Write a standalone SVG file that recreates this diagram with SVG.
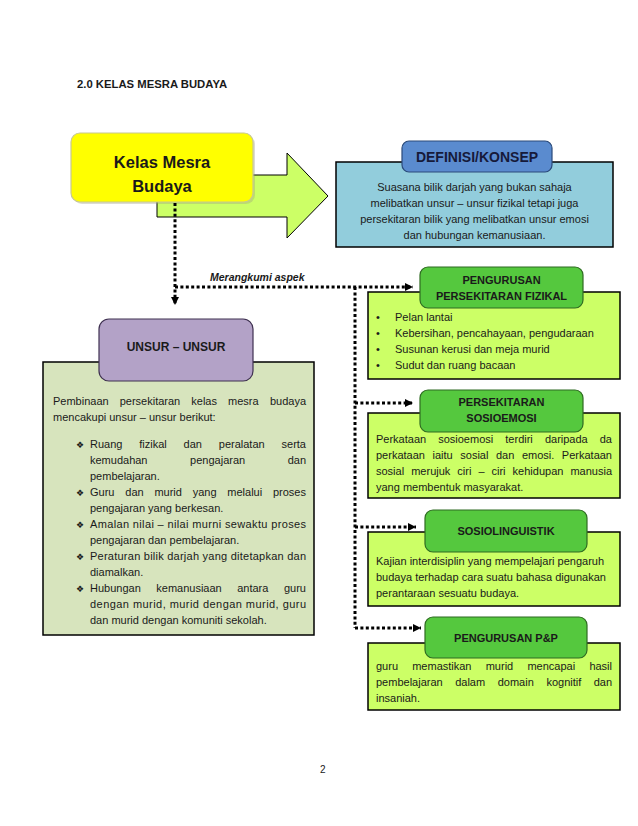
<svg xmlns="http://www.w3.org/2000/svg" width="638" height="826" viewBox="0 0 638 826">
<defs>
<style>
text{font-family:"Liberation Sans",Arial,sans-serif;fill:#1a1a1a}
.t{font-size:11px}
.b{font-weight:bold}
.tab{font-size:11px;font-weight:bold;text-anchor:middle}
.box{fill:#ccff66;stroke:#000;stroke-width:1.5}
.gtab{fill:#55c83e;stroke:#2f6b22;stroke-width:1.2}
.dot{fill:none;stroke:#000;stroke-width:3;stroke-dasharray:3 2.4}
.dia{font-family:"DejaVu Sans",sans-serif;font-size:9px}
</style>
<marker id="ah" markerUnits="userSpaceOnUse" markerWidth="9" markerHeight="9" refX="8" refY="4.5" orient="auto">
<path d="M0,0.5 L8,4.5 L0,8.5 z" fill="#000"/>
</marker>
</defs>
<rect width="638" height="826" fill="#fff"/>

<text x="77" y="88" class="b" style="font-size:11.3px">2.0 KELAS MESRA BUDAYA</text>

<g id="arrow-main">
<polygon points="157,175 287,175 287,153 328,196 287,238 287,217 157,217" fill="#ccff66" stroke="#000" stroke-width="1"/>
</g>

<g id="kelas">
<rect x="73" y="135" width="182" height="69" rx="9" fill="#9a9a80" opacity="0.35"/>
<rect x="71" y="133" width="182" height="69" rx="9" fill="#ffff00" stroke="#c8c890" stroke-width="1.2"/>
<text x="162" y="168" class="b" text-anchor="middle" style="font-size:16.5px">Kelas Mesra</text>
<text x="162" y="192" class="b" text-anchor="middle" style="font-size:16.5px">Budaya</text>
</g>

<g id="definisi">
<rect x="336" y="162" width="277" height="85" fill="#92cddc" stroke="#000" stroke-width="1.5"/>
<rect x="402" y="141" width="150" height="31" rx="7" fill="#5a8bcf" stroke="#2a4a7a" stroke-width="1.2"/>
<text x="477" y="162" class="b" text-anchor="middle" style="font-size:14px;fill:#161a3a">DEFINISI/KONSEP</text>
<g class="t" text-anchor="middle">
<text x="474.5" y="191" class="t">Suasana bilik darjah yang bukan sahaja</text>
<text x="474.5" y="207" class="t">melibatkan unsur – unsur fizikal tetapi juga</text>
<text x="474.5" y="223" class="t">persekitaran bilik yang melibatkan unsur emosi</text>
<text x="474.5" y="239" class="t">dan hubungan kemanusiaan.</text>
</g>
</g>

<g id="connectors">
<path class="dot" d="M175,203 V305" marker-end="url(#ah)"/>
<path class="dot" d="M175,287 H413" marker-end="url(#ah)"/>
<path class="dot" d="M355,287 V628"/>
<path class="dot" d="M355,403 H413" marker-end="url(#ah)"/>
<path class="dot" d="M355,527 H416" marker-end="url(#ah)"/>
<path class="dot" d="M355,628 H421" marker-end="url(#ah)"/>
<text x="210" y="281" class="b" style="font-size:10.5px;font-style:italic">Merangkumi aspek</text>
</g>

<g id="fizikal">
<rect x="368" y="292" width="252" height="87" class="box"/>
<rect x="420" y="267" width="163" height="41" rx="8" class="gtab"/>
<text x="501.5" y="284" class="tab">PENGURUSAN</text>
<text x="501.5" y="300" class="tab">PERSEKITARAN FIZIKAL</text>
<text x="376" y="321" class="t">•</text><text x="395" y="321" class="t">Pelan lantai</text>
<text x="376" y="337" class="t">•</text><text x="395" y="337" class="t">Kebersihan, pencahayaan, pengudaraan</text>
<text x="376" y="353" class="t">•</text><text x="395" y="353" class="t">Susunan kerusi dan meja murid</text>
<text x="376" y="369" class="t">•</text><text x="395" y="369" class="t">Sudut dan ruang bacaan</text>
</g>

<g id="sosioemosi">
<rect x="368" y="413" width="252" height="85" class="box"/>
<rect x="420" y="390" width="163" height="42" rx="8" class="gtab"/>
<text x="501.5" y="406" class="tab">PERSEKITARAN</text>
<text x="501.5" y="422" class="tab">SOSIOEMOSI</text>
<text y="443" class="t"><tspan x="376">Perkataan</tspan><tspan x="438.2">sosioemosi</tspan><tspan x="505.3">terdiri</tspan><tspan x="544.9">daripada</tspan></text>
<text x="612" y="443" class="t" text-anchor="end">da</text>
<text y="459" class="t"><tspan x="376">perkataan</tspan><tspan x="432.5">iaitu</tspan><tspan x="460.3">sosial</tspan><tspan x="496">dan</tspan><tspan x="521.9">emosi.</tspan></text>
<text x="612" y="459" class="t" text-anchor="end">Perkataan</text>
<text y="475" class="t"><tspan x="376">sosial</tspan><tspan x="411.2">merujuk</tspan><tspan x="457.3">ciri</tspan><tspan x="478.4">–</tspan><tspan x="491.5">ciri</tspan><tspan x="512.6">kehidupan</tspan></text>
<text x="612" y="475" class="t" text-anchor="end">manusia</text>
<text x="376" y="491" class="t">yang membentuk masyarakat.</text>
</g>

<g id="sosiolinguistik">
<rect x="368" y="532" width="252" height="74" class="box"/>
<rect x="425" y="510" width="162" height="42" rx="8" class="gtab"/>
<text x="506" y="535" class="tab">SOSIOLINGUISTIK</text>
<text x="376" y="565" class="t">Kajian interdisiplin yang mempelajari pengaruh</text>
<text x="376" y="581" class="t">budaya terhadap cara suatu bahasa digunakan</text>
<text x="376" y="597" class="t">perantaraan sesuatu budaya.</text>
</g>

<g id="pp">
<rect x="368" y="643" width="252" height="67" class="box"/>
<rect x="425" y="617" width="162" height="41" rx="8" class="gtab"/>
<text x="506" y="642" class="tab">PENGURUSAN P&amp;P</text>
<text y="670" class="t"><tspan x="376">guru</tspan><tspan x="412.2">memastikan</tspan><tspan x="485.7">murid</tspan><tspan x="527.4">mencapai</tspan></text>
<text x="612" y="670" class="t" text-anchor="end">hasil</text>
<text y="686" class="t"><tspan x="376">pembelajaran</tspan><tspan x="455.2">dalam</tspan><tspan x="497.7">domain</tspan><tspan x="546.4">kognitif</tspan></text>
<text x="612" y="686" class="t" text-anchor="end">dan</text>
<text x="376" y="702" class="t">insaniah.</text>
</g>

<g id="unsur">
<rect x="43" y="362" width="271" height="273" fill="#d7e4bd" stroke="#000" stroke-width="1.5"/>
<rect x="99" y="319" width="154" height="62" rx="10" fill="#b3a2c7" stroke="#3f3151" stroke-width="1.2"/>
<text x="176" y="351" class="b" text-anchor="middle" style="font-size:12px">UNSUR – UNSUR</text>
<text y="405" class="t"><tspan x="53">Pembinaan</tspan><tspan x="119.7">persekitaran</tspan><tspan x="191.3">kelas</tspan><tspan x="228.1">mesra</tspan></text>
<text x="306" y="405" class="t" text-anchor="end">budaya</text>
<text x="53" y="421" class="t">mencakupi unsur – unsur berikut:</text>

<text x="76" y="448" class="dia">❖</text>
<text y="448" class="t"><tspan x="90">Ruang</tspan><tspan x="139.3">fizikal</tspan><tspan x="183.6">dan</tspan><tspan x="218.8">peralatan</tspan></text>
<text x="306" y="448" class="t" text-anchor="end">serta</text>
<text y="464" class="t"><tspan x="90">kemudahan</tspan><tspan x="190.1">pengajaran</tspan></text>
<text x="306" y="464" class="t" text-anchor="end">dan</text>
<text x="90" y="480" class="t">pembelajaran.</text>

<text x="76" y="496" class="dia">❖</text>
<text y="496" class="t"><tspan x="90">Guru</tspan><tspan x="125.3">dan</tspan><tspan x="154.4">murid</tspan><tspan x="192.7">yang</tspan><tspan x="227.3">melalui</tspan></text>
<text x="306" y="496" class="t" text-anchor="end">proses</text>
<text x="90" y="512" class="t">pengajaran yang berkesan.</text>

<text x="76" y="528" class="dia">❖</text>
<text x="90" y="528" class="t" textLength="216" lengthAdjust="spacing">Amalan nilai – nilai murni sewaktu proses</text>
<text x="90" y="544" class="t">pengajaran dan pembelajaran.</text>

<text x="76" y="560" class="dia">❖</text>
<text x="90" y="560" class="t" textLength="216" lengthAdjust="spacing">Peraturan bilik darjah yang ditetapkan dan</text>
<text x="90" y="576" class="t">diamalkan.</text>

<text x="76" y="592" class="dia">❖</text>
<text y="592" class="t"><tspan x="90">Hubungan</tspan><tspan x="156.3">kemanusiaan</tspan><tspan x="237.2">antara</tspan></text>
<text x="306" y="592" class="t" text-anchor="end">guru</text>
<text x="90" y="608" class="t" textLength="216" lengthAdjust="spacing">dengan murid, murid dengan murid, guru</text>
<text x="90" y="624" class="t">dan murid dengan komuniti sekolah.</text>
</g>

<text x="320" y="773" style="font-size:10px">2</text>
</svg>
